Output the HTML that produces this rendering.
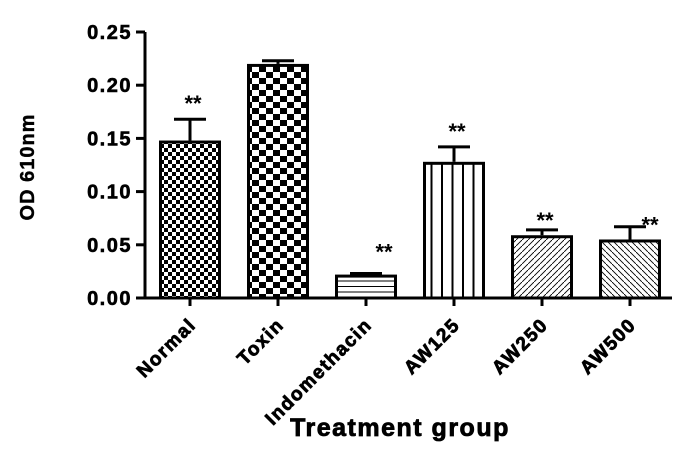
<!DOCTYPE html>
<html><head><meta charset="utf-8"><style>
html,body{margin:0;padding:0;background:#fff;}
svg text{font-family:"Liberation Sans",Arial,sans-serif;font-weight:bold;fill:#000;}
</style></head><body>
<svg id="chart" width="688" height="447" xmlns="http://www.w3.org/2000/svg">
<defs>
<pattern id="p0" width="8" height="8" patternUnits="userSpaceOnUse"><rect width="8" height="8" fill="#fff"/><rect width="4" height="4" fill="#000"/><rect x="4" y="4" width="4" height="4" fill="#000"/></pattern>
<pattern id="p1" width="14" height="12" patternUnits="userSpaceOnUse"><rect width="14" height="12" fill="#fff"/><rect width="7" height="6" fill="#000"/><rect x="7" y="6" width="7" height="6" fill="#000"/></pattern>
<pattern id="p2" width="10" height="5.5" patternUnits="userSpaceOnUse"><rect width="10" height="5.5" fill="#fff"/><rect y="0" width="10" height="1" fill="#000"/></pattern>
<pattern id="p3" width="10.5" height="10" patternUnits="userSpaceOnUse"><rect width="10.5" height="10" fill="#fff"/><rect x="0" width="2" height="10" fill="#000"/></pattern>
<pattern id="p4" width="6" height="6" patternUnits="userSpaceOnUse"><rect width="6" height="6" fill="#fff"/><path d="M-1,7 L7,-1" stroke="#000" stroke-width="0.9"/></pattern>
<pattern id="p5" width="6" height="6" patternUnits="userSpaceOnUse"><rect width="6" height="6" fill="#fff"/><path d="M-1,-1 L7,7" stroke="#000" stroke-width="0.9"/></pattern>
</defs>
<g id="plot"></g>
<text x="400" y="436" font-size="25" letter-spacing="1.5" text-anchor="middle" stroke="#000" stroke-width="0.8">Treatment group</text>
<text transform="translate(34,167) rotate(-90)" font-size="20" letter-spacing="1" text-anchor="middle" stroke="#000" stroke-width="0.4">OD 610nm</text>
</svg>
<script>
const categories=["Normal","Toxin","Indomethacin","AW125","AW250","AW500"];
const values=[0.148,0.220,0.022,0.128,0.059,0.055];
const errors=[0.020,0.003,0.001,0.014,0.005,0.012];
const sig=["**","","**","**","**","**"];
const yTicks=[0,0.05,0.10,0.15,0.20,0.25];
const yTickLabels=["0.00","0.05","0.10","0.15","0.20","0.25"];
const NS="http://www.w3.org/2000/svg";
const g=document.getElementById('plot');
const y0=298,pxPerUnit=1064;
function yS(v){return y0-v*pxPerUnit;}
function xS(i){return 159+i*88;}
const bw=62;
function mk(t,a,txt){const e=document.createElementNS(NS,t);for(const k in a)e.setAttribute(k,a[k]);if(txt!==undefined)e.textContent=txt;g.appendChild(e);return e;}
let e=mk('line',{x1:145,y1:yS(0.25),x2:145,y2:y0+1.5,stroke:'#000','stroke-width':3});


e=mk('line',{x1:143.5,y1:y0,x2:672,y2:y0,stroke:'#000','stroke-width':3});


yTicks.forEach((v,i)=>{
  let t=mk('line',{x1:136,y1:yS(v),x2:145,y2:yS(v),stroke:'#000','stroke-width':3});
  
  
  let l=mk('text',{x:132,y:yS(v)+7,'font-size':20,'letter-spacing':1.5,'text-anchor':'end',stroke:'#000','stroke-width':0.6},yTickLabels[i]);
  
  
});
categories.forEach((c,i)=>{
  const x=xS(i),yt=yS(values[i]),ye=yS(values[i]+errors[i]),cx=x+bw/2;
  let el=mk('line',{x1:cx,y1:yt,x2:cx,y2:ye,stroke:'#000','stroke-width':3});
  
  
  el=mk('line',{x1:cx-16,y1:ye,x2:cx+16,y2:ye,stroke:'#000','stroke-width':3});
  
  
  el=mk('rect',{x:x+1.5,y:yt+1.5,width:bw-3,height:y0-yt-1.5,fill:'url(#p'+i+')',stroke:'#000','stroke-width':3});
  
  
  if(sig[i]){
    let sx=cx+3, sy=ye-8;
    if(i===2){sx=cx+18;sy=ye-14;}
    if(i===4){sy=ye-2;}
    if(i===5){sx=cx+20;sy=ye+6;}
    el=mk('text',{x:sx,y:sy,'font-size':22,'text-anchor':'middle','font-weight':'normal'},sig[i]);
    
    
  }
  el=mk('line',{x1:cx,y1:y0,x2:cx,y2:y0+8,stroke:'#000','stroke-width':3});
  
  
  el=mk('text',{x:0,y:0,'font-size':19,'letter-spacing':1.5,'text-anchor':'end',stroke:'#000','stroke-width':0.8,transform:'translate('+(cx+7)+','+(y0+28)+') rotate(-45)'},c);
  
  
});
</script>
</body></html>
